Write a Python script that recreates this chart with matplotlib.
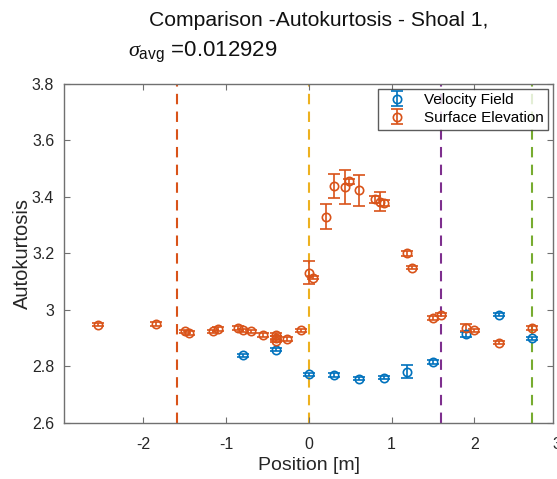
import matplotlib
matplotlib.use("Agg")
import matplotlib.pyplot as plt
import matplotlib.transforms as mtransforms

plt.rcParams['font.family'] = ['Liberation Sans', 'DejaVu Sans']
plt.rcParams['mathtext.fontset'] = 'custom'
plt.rcParams['mathtext.rm'] = 'Liberation Sans'
plt.rcParams['mathtext.it'] = 'Liberation Serif:italic'

# Velocity field autokurtosis
vel_x = [-0.80, -0.40, 0.0, 0.30, 0.605, 0.905, 1.19, 1.50, 1.895, 2.30, 2.70]
vel_y = [2.840, 2.860, 2.772, 2.770, 2.757, 2.761, 2.781, 2.816, 2.914, 2.984, 2.900]
vel_err = [0.006, 0.006, 0.006, 0.006, 0.006, 0.006, 0.023, 0.008, 0.008, 0.006, 0.006]

# Surface elevation autokurtosis
surf_x = [-2.55, -1.85, -1.50, -1.45, -1.16, -1.10, -0.855, -0.80, -0.705, -0.55,
          -0.40, -0.40, -0.40, -0.26, -0.10, 0.0, 0.045, 0.205, 0.30, 0.44, 0.49,
          0.605, 0.80, 0.86, 0.91, 1.19, 1.25, 1.50, 1.60, 1.895, 2.0, 2.30, 2.70]
surf_y = [2.948, 2.951, 2.924, 2.919, 2.924, 2.933, 2.936, 2.928, 2.924, 2.912,
          2.913, 2.901, 2.892, 2.897, 2.928, 3.132, 3.115, 3.330, 3.440, 3.435, 3.455,
          3.424, 3.392, 3.383, 3.379, 3.200, 3.150, 2.971, 2.983, 2.938, 2.928, 2.884, 2.936]
surf_err = [0.006, 0.006, 0.006, 0.006, 0.006, 0.006, 0.006, 0.006, 0.006, 0.006,
            0.006, 0.006, 0.006, 0.006, 0.006, 0.041, 0.006, 0.045, 0.042, 0.060, 0.008,
            0.055, 0.012, 0.034, 0.012, 0.008, 0.006, 0.006, 0.006, 0.012, 0.006, 0.006, 0.006]

# Shoal boundary markers
boundary_x = [-1.6, 0.0, 1.6, 2.7]
boundary_colors = ['#D95319', '#EDB120', '#7E2F8E', '#77AC30']

xticks = [-2, -1, 0, 1, 2]
yticks = [2.6, 2.8, 3.0, 3.2, 3.4, 3.6, 3.8]
ytick_labels = ['2.6', '2.8', '3', '3.2', '3.4', '3.6', '3.8']

BLUE = '#0072BD'
ORANGE = '#D95319'
TXT = '#262626'
SPINE = '#707070'

fig = plt.figure(figsize=(5.57, 4.79), dpi=100)
ax = fig.add_axes([64 / 557, 56 / 479, (553 - 64) / 557, (423 - 84) / 479])

for bx, bc in zip(boundary_x, boundary_colors):
    ax.axvline(bx, color=bc, lw=1.5, ls=(0, (5, 3.5)), zorder=1)

ekw = dict(fmt='o', ms=6, mfc='none', mew=1.2, elinewidth=1.2, capsize=4.5, capthick=1.2, zorder=3)
h_vel = ax.errorbar(vel_x, vel_y, yerr=vel_err, color=BLUE, ecolor=BLUE, **ekw)
h_surf = ax.errorbar(surf_x, surf_y, yerr=surf_err, color=ORANGE, ecolor=ORANGE, **ekw)

ax.set_xlim(-2.96, 2.95)
ax.set_ylim(2.6, 3.8)
ax.set_xticks(xticks)
ax.set_xticklabels([str(t) for t in xticks])
ax.set_yticks(yticks)
ax.set_yticklabels(ytick_labels)
ax.tick_params(direction='in', length=4, width=0.8, color=SPINE, labelcolor=TXT,
               labelsize=11.5, top=True, right=True)
ax.tick_params(axis='x', pad=10)
ax.tick_params(axis='y', pad=7)
for s in ax.spines.values():
    s.set_color(SPINE)
    s.set_linewidth(1.0)

# tick label at x = 3 sits on the right border
trans = mtransforms.blended_transform_factory(ax.transData, ax.transAxes)
ax.text(3.0, -0.04, '3', transform=trans, ha='center', va='top', fontsize=11.5,
        color=TXT, clip_on=False)

ax.set_xlabel('Position [m]', fontsize=14, color=TXT, labelpad=4)
ax.set_ylabel('Autokurtosis', fontsize=14.5, color=TXT, labelpad=0)

leg = ax.legend([h_vel, h_surf], ['Velocity Field', 'Surface Elevation'],
                loc='upper right', fontsize=11, frameon=True, fancybox=False,
                borderaxespad=0.3, handlelength=1.8, handletextpad=0.9,
                borderpad=0.3, labelspacing=0.25)
leg.get_frame().set_edgecolor('#333333')
leg.get_frame().set_linewidth(1.0)

fig.text(319 / 557, 1 - 21 / 479, 'Comparison -Autokurtosis - Shoal 1,', ha='center', va='center',
         fontsize=15.2, color='#111111')
fig.text(128 / 557, 1 - 52 / 479, r'$\sigma_{\rm avg}$ =0.012929', ha='left', va='center',
         fontsize=16, color='#111111')

fig.savefig('out.png', dpi=100)
